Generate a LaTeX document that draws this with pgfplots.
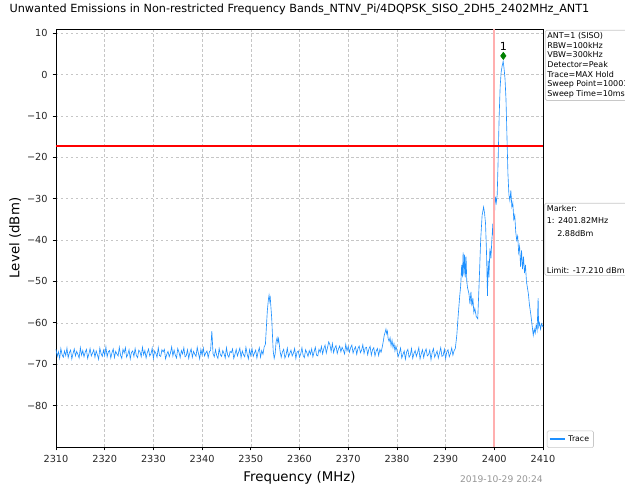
\documentclass[border=0pt]{standalone}
\usepackage{fontspec}
\setmainfont{DejaVu Sans}
\usepackage{pgfplots}
\pgfplotsset{compat=1.18}
\usepackage{pgfplotstable}
\definecolor{tracecol}{RGB}{30,144,255}
\definecolor{vcol}{RGB}{255,175,175}
\definecolor{mkgreen}{RGB}{0,128,0}
\definecolor{boxgray}{RGB}{200,200,200}
\definecolor{dategray}{RGB}{150,150,150}

\pgfplotstableread[row sep=\\]{
x y\\
2310.00 -66.4\\2310.25 -68.1\\2310.50 -67.0\\2310.75 -68.6\\2311.00 -66.2\\2311.25 -67.7\\2311.50 -68.3\\2311.75 -66.8\\
2312.00 -67.9\\2312.25 -66.1\\2312.50 -68.4\\2312.75 -67.2\\2313.00 -66.6\\2313.25 -68.7\\2313.50 -67.4\\2313.75 -66.3\\
2314.00 -68.0\\2314.25 -66.9\\2314.50 -67.6\\2314.75 -68.5\\2315.00 -66.0\\2315.25 -67.8\\2315.50 -66.7\\2315.75 -68.2\\
2316.00 -67.1\\2316.25 -66.4\\2316.50 -68.6\\2316.75 -67.5\\2317.00 -66.2\\2317.25 -68.0\\2317.50 -67.3\\2317.75 -66.5\\
2318.00 -68.3\\2318.25 -66.8\\2318.50 -67.7\\2318.75 -68.8\\2319.00 -66.1\\2319.25 -67.4\\2319.50 -68.1\\2319.75 -66.6\\
2320.00 -67.9\\2320.25 -65.8\\2320.50 -68.2\\2320.75 -67.0\\2321.00 -66.7\\2321.25 -68.5\\2321.50 -67.2\\2321.75 -66.3\\
2322.00 -68.4\\2322.25 -66.9\\2322.50 -67.5\\2322.75 -68.0\\2323.00 -65.9\\2323.25 -67.8\\2323.50 -68.6\\2323.75 -66.4\\
2324.00 -67.3\\2324.25 -66.0\\2324.50 -68.3\\2324.75 -67.6\\2325.00 -66.5\\2325.25 -68.7\\2325.50 -67.1\\2325.75 -66.8\\
2326.00 -68.1\\2326.25 -66.2\\2326.50 -67.9\\2326.75 -68.4\\2327.00 -66.6\\2327.25 -67.0\\2327.50 -68.2\\2327.75 -65.9\\
2328.00 -67.7\\2328.25 -66.7\\2328.50 -68.5\\2328.75 -67.2\\2329.00 -66.3\\2329.25 -68.0\\2329.50 -67.5\\2329.75 -66.1\\
2330.00 -68.6\\2330.25 -66.8\\2330.50 -67.4\\2330.75 -68.3\\2331.00 -66.0\\2331.25 -67.9\\2331.50 -68.1\\2331.75 -66.5\\
2332.00 -67.0\\2332.25 -66.4\\2332.50 -68.7\\2332.75 -67.6\\2333.00 -66.9\\2333.25 -68.2\\2333.50 -67.3\\2333.75 -65.8\\
2334.00 -68.0\\2334.25 -66.6\\2334.50 -67.8\\2334.75 -68.5\\2335.00 -66.2\\2335.25 -67.1\\2335.50 -68.4\\2335.75 -66.7\\
2336.00 -67.5\\2336.25 -66.0\\2336.50 -68.2\\2336.75 -67.9\\2337.00 -66.5\\2337.25 -68.6\\2337.50 -67.2\\2337.75 -66.3\\
2338.00 -68.3\\2338.25 -66.9\\2338.50 -67.6\\2338.75 -68.1\\2339.00 -65.9\\2339.25 -67.4\\2339.50 -68.7\\2339.75 -66.4\\
2340.00 -67.8\\2340.25 -66.1\\2340.50 -68.0\\2340.75 -67.3\\2341.00 -66.8\\2341.25 -68.4\\2341.50 -67.0\\2341.75 -66.6\\
2342.00 -62.0\\2342.25 -67.5\\2342.50 -68.2\\2342.75 -66.5\\2343.00 -67.9\\2343.25 -68.6\\2343.50 -66.2\\2343.75 -67.7\\
2344.00 -68.1\\2344.25 -66.7\\2344.50 -67.4\\2344.75 -68.5\\2345.00 -66.0\\2345.25 -67.8\\2345.50 -68.3\\2345.75 -66.9\\
2346.00 -67.2\\2346.25 -66.3\\2346.50 -68.6\\2346.75 -67.6\\2347.00 -66.4\\2347.25 -68.0\\2347.50 -67.1\\2347.75 -66.1\\
2348.00 -68.4\\2348.25 -66.8\\2348.50 -67.7\\2348.75 -68.2\\2349.00 -65.9\\2349.25 -67.5\\2349.50 -68.7\\2349.75 -66.5\\
2350.00 -67.9\\2350.25 -66.2\\2350.50 -68.1\\2350.75 -67.3\\2351.00 -66.6\\2351.25 -68.5\\2351.50 -67.0\\2351.75 -66.0\\
2352.00 -68.3\\2352.25 -66.7\\2352.50 -67.6\\2352.75 -65.8\\
2353.00 -65.2\\2353.20 -61.0\\2353.40 -57.0\\2353.60 -54.5\\2353.75 -53.3\\2353.90 -54.8\\2354.00 -54.0\\2354.15 -56.5\\
2354.30 -59.0\\2354.45 -63.0\\2354.60 -66.8\\2354.80 -68.6\\2355.00 -67.5\\2355.20 -64.5\\2355.40 -63.6\\2355.55 -64.8\\
2355.70 -63.8\\2355.85 -65.2\\2356.00 -66.8\\2356.25 -68.3\\
2356.50 -67.0\\2356.75 -66.4\\2357.00 -68.5\\2357.25 -67.7\\2357.50 -66.1\\2357.75 -68.2\\2358.00 -67.4\\
2358.25 -66.6\\2358.50 -68.0\\2358.75 -67.3\\2359.00 -66.2\\2359.25 -68.6\\2359.50 -67.1\\2359.75 -66.8\\2360.00 -68.3\\
2360.25 -67.5\\2360.50 -66.0\\2360.75 -67.9\\2361.00 -68.4\\2361.25 -66.5\\2361.50 -67.2\\2361.75 -68.1\\2362.00 -66.7\\
2362.25 -67.6\\2362.50 -66.3\\2362.75 -68.2\\2363.00 -67.0\\2363.25 -65.9\\2363.50 -67.8\\2363.75 -68.0\\2364.00 -66.4\\
2364.25 -67.1\\2364.50 -65.7\\2364.75 -67.5\\2365.00 -66.2\\2365.25 -65.4\\2365.50 -67.3\\2365.75 -66.0\\2366.00 -64.6\\
2366.25 -65.3\\2366.50 -66.9\\2366.75 -65.0\\2367.00 -67.2\\2367.25 -66.1\\2367.50 -65.5\\2367.75 -67.4\\2368.00 -66.3\\
2368.25 -65.6\\2368.50 -67.0\\2368.75 -65.9\\2369.00 -66.6\\2369.25 -67.5\\2369.50 -65.2\\2369.75 -66.8\\2370.00 -65.7\\
2370.25 -67.1\\2370.50 -66.0\\2370.75 -65.4\\2371.00 -67.3\\2371.25 -66.4\\2371.50 -65.8\\2371.75 -67.6\\2372.00 -66.2\\
2372.25 -65.6\\2372.50 -67.2\\2372.75 -66.6\\2373.00 -65.3\\2373.25 -67.4\\2373.50 -66.1\\2373.75 -65.9\\2374.00 -67.7\\
2374.25 -66.3\\2374.50 -65.7\\2374.75 -67.8\\2375.00 -66.5\\2375.25 -66.0\\2375.50 -68.0\\2375.75 -66.8\\2376.00 -66.2\\
2376.25 -67.9\\2376.50 -66.4\\2376.75 -67.1\\2377.00 -65.8\\
2377.20 -64.5\\2377.40 -63.0\\2377.60 -62.2\\2377.75 -61.5\\2377.90 -62.6\\2378.05 -62.0\\2378.20 -63.8\\2378.40 -64.5\\
2378.60 -63.6\\2378.80 -65.5\\2379.00 -64.2\\2379.20 -66.0\\2379.40 -65.0\\2379.60 -66.8\\2379.80 -65.6\\
2380.00 -66.6\\2380.25 -68.2\\2380.50 -67.3\\2380.75 -66.1\\2381.00 -68.5\\2381.25 -67.6\\2381.50 -66.8\\2381.75 -68.8\\
2382.00 -67.0\\2382.25 -66.4\\2382.50 -68.3\\2382.75 -67.8\\2383.00 -66.2\\2383.25 -68.6\\2383.50 -67.4\\2383.75 -66.7\\
2384.00 -68.1\\2384.25 -67.2\\2384.50 -66.0\\2384.75 -68.7\\2385.00 -67.5\\2385.25 -66.5\\2385.50 -68.4\\2385.75 -67.0\\
2386.00 -66.3\\2386.25 -68.0\\2386.50 -67.7\\2386.75 -66.6\\2387.00 -68.9\\2387.25 -67.1\\2387.50 -66.2\\2387.75 -68.3\\
2388.00 -67.6\\2388.25 -66.8\\2388.50 -68.5\\2388.75 -67.3\\2389.00 -66.0\\2389.25 -68.1\\2389.50 -67.9\\2389.75 -66.4\\
2390.00 -68.6\\2390.25 -67.0\\2390.50 -66.5\\2390.75 -68.2\\2391.00 -67.4\\2391.25 -66.1\\2391.50 -67.8\\2391.75 -66.7\\
2392.00 -66.2\\2392.30 -63.0\\2392.60 -58.0\\2392.90 -53.5\\2393.10 -51.0\\2393.30 -46.0\\2393.45 -49.0\\2393.60 -43.0\\
2393.75 -48.5\\2393.90 -43.5\\2394.05 -49.0\\2394.20 -44.0\\2394.35 -50.0\\2394.50 -51.5\\2394.80 -53.0\\2395.00 -55.5\\
2395.20 -52.5\\2395.40 -56.0\\2395.60 -54.0\\2395.80 -57.5\\2396.00 -56.5\\2396.30 -58.5\\2396.60 -59.0\\2396.90 -50.0\\
2397.20 -40.0\\2397.50 -34.0\\2397.80 -32.0\\2398.00 -33.5\\2398.20 -36.0\\2398.40 -43.0\\2398.60 -53.5\\2398.75 -45.0\\
2398.90 -49.0\\2399.10 -42.0\\2399.30 -44.5\\2399.50 -40.0\\2399.70 -36.0\\2399.90 -42.0\\2400.00 -35.0\\2400.20 -29.5\\
2400.40 -31.0\\2400.60 -29.0\\2400.80 -20.0\\2401.00 -10.0\\2401.20 -3.0\\2401.40 0.5\\2401.60 2.0\\2401.82 3.2\\
2402.00 1.5\\2402.20 -1.0\\2402.40 -6.0\\2402.60 -15.0\\2402.80 -24.0\\2403.00 -29.0\\2403.20 -30.5\\2403.40 -28.0\\
2403.60 -32.0\\2403.80 -31.0\\2404.00 -35.0\\2404.20 -34.0\\2404.40 -38.0\\2404.60 -40.0\\2404.80 -39.0\\2405.00 -43.0\\
2405.20 -41.5\\2405.40 -46.5\\2405.60 -42.5\\2405.80 -47.0\\2406.00 -44.0\\2406.20 -48.0\\2406.40 -46.0\\2406.60 -50.0\\
2406.80 -51.5\\2407.00 -53.0\\2407.20 -55.5\\2407.50 -58.0\\2407.80 -61.0\\2408.00 -63.0\\2408.20 -61.5\\2408.40 -62.5\\
2408.60 -60.5\\2408.80 -61.8\\2409.00 -54.0\\2409.10 -61.0\\2409.30 -60.0\\2409.50 -61.5\\2409.70 -60.2\\2410.00 -61.0\\
}\tracedata

\begin{document}
\begin{tikzpicture}
\path[use as bounding box] (-40.32pt,-28.8pt) rectangle (409.68pt,321.84pt);
\begin{axis}[
  scale only axis,
  width=350.64pt, height=300.96pt,
  xmin=2310, xmax=2410, ymin=-90, ymax=11,
  xtick={2310,2320,...,2410},
  xticklabels={2310,2320,2330,2340,2350,2360,2370,2380,2390,2400,2410},
  ytick={-80,-70,...,10},
  yticklabels={−80,−70,−60,−50,−40,−30,−20,−10,0,10},
  tick label style={font=\fontsize{7}{8}\selectfont, text=black!85},
  /pgf/number format/assume math mode=true,
  tick align=outside, xtick pos=bottom, ytick pos=left,
  major tick length=2.5pt,
  tick style={black, line width=0.5pt},
  axis line style={black, line width=0.6pt},
  grid=major,
  major grid style={gray!45, dash pattern=on 1.8pt off 1.8pt, line width=0.4pt},
  xlabel={Frequency (MHz)},
  ylabel={Level (dBm)},
  label style={font=\fontsize{9.6}{11}\selectfont},
  xlabel style={at={(axis description cs:0.5,-0.074)}, anchor=center},
  ylabel style={at={(axis description cs:-0.084,0.5)}, anchor=center},
  title={Unwanted Emissions in Non-restricted Frequency Bands\_NTNV\_Pi/4DQPSK\_SISO\_2DH5\_2402MHz\_ANT1},
  title style={font=\fontsize{8.1}{10}\selectfont, at={(axis description cs:0.5,1.026)}, anchor=center},
  legend style={at={(axis description cs:1.008,-0.002)}, anchor=south west,
    font=\fontsize{5.6}{6.5}\selectfont, draw=boxgray, rounded corners=1pt,
    inner sep=1.2pt, row sep=0pt},
  legend cell align=left,
  legend image code/.code={\draw[tracecol, line width=1.1pt] (0pt,0pt) -- (11pt,0pt);},
  clip=false,
]
\addplot[draw=tracecol, line width=0.45pt] table[x=x,y=y] {\tracedata};
\addlegendentry{Trace}
\addplot[vcol, line width=1.2pt, forget plot] coordinates {(2400,-90) (2400,11)};
\addplot[red, line width=1.1pt, forget plot] coordinates {(2310,-17.21) (2410,-17.21)};
\addplot[only marks, mark=diamond*, mark size=2.6pt, color=mkgreen, forget plot,
  nodes near coords={1},
  every node near coord/.style={black, font=\fontsize{8}{9}\selectfont, anchor=south, yshift=0.5pt}]
  coordinates {(2401.85,4.5)};

\node[anchor=north west, draw=boxgray, line width=0.5pt, rounded corners=1pt, fill=white, align=left,
  font=\fontsize{5.76}{7}\selectfont, inner sep=1.5pt]
  at (axis description cs:1.004,0.998)
  {ANT=1 (SISO)\\RBW=100kHz\\VBW=300kHz\\Detector=Peak\\Trace=MAX Hold\\Sweep Point=10001\\Sweep Time=10ms};
\node[anchor=north west, draw=boxgray, line width=0.5pt, rounded corners=1pt, fill=white, align=left,
  font=\fontsize{5.76}{8.9}\selectfont, inner sep=1.5pt]
  at (axis description cs:1.003,0.584)
  {Marker:\\1: 2401.82MHz\\\hspace*{1.3em}2.88dBm\\[8.9pt]\\Limit: -17.210 dBm};
\node[anchor=east, inner sep=0pt, text=dategray, font=\fontsize{6.6}{7.5}\selectfont]
  at (axis description cs:1.0,-0.077) {2019-10-29 20:24};
\end{axis}
\end{tikzpicture}
\end{document}
